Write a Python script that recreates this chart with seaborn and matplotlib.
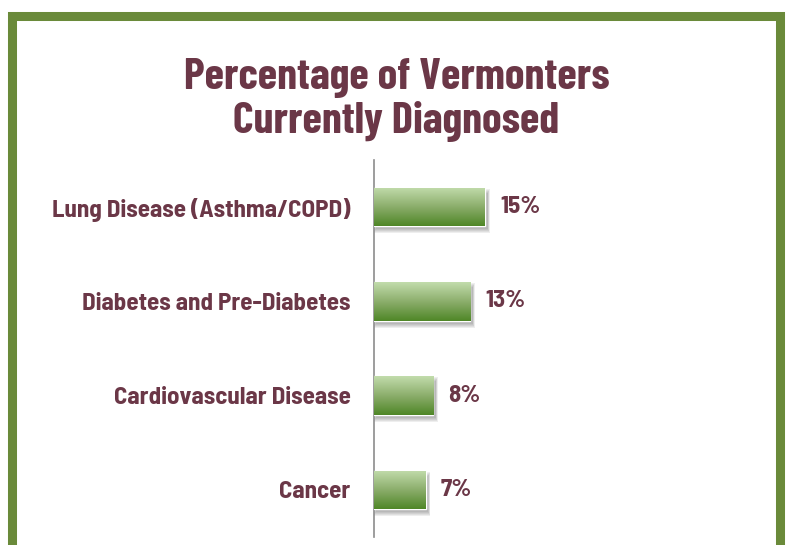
# Horizontal bar chart: share of Vermonters currently diagnosed, by condition.

import numpy as np
import pandas as pd
import seaborn as sns
import matplotlib.pyplot as plt
from matplotlib.colors import LinearSegmentedColormap
from matplotlib.patches import Rectangle

conditions = ["Lung Disease (Asthma/COPD)", "Diabetes and Pre-Diabetes",
              "Cardiovascular Disease", "Cancer"]
percent = [15, 13, 8, 7]

maroon = "#6b3747"
border_green = "#6a8a3a"
title_fonts = ["Barlow Condensed", "DejaVu Sans"]
label_fonts = ["Barlow Semi Condensed", "Barlow Condensed", "DejaVu Sans"]

sns.set_theme(style="white")
plt.rcParams["font.family"] = label_fonts

df = pd.DataFrame({"condition": conditions, "percent": percent})

fig = plt.figure(figsize=(7.93, 5.45), dpi=100)
ax = fig.add_axes([374 / 793, 1 - 537 / 545, 380 / 793, 377 / 545])

sns.barplot(data=df, x="percent", y="condition", ax=ax, width=0.41,
            color="#8fb070", saturation=1, zorder=3)

xmax = 380 / 7.4
ax.set_xlim(0, xmax)
ax.set_ylim(3.5, -0.5)

# pixel sizes in data units, for the shadow
px_x = xmax / 380
px_y = 4 / 377

# Soft drop shadow (mostly below the bar) and vertical gradient for every bar.
grad = LinearSegmentedColormap.from_list("g", ["#c2dcac", "#8cae6c", "#4f8727"])
for p in list(ax.patches):
    x0, y0, w, h = p.get_x(), p.get_y(), p.get_width(), p.get_height()
    for k in range(1, 6):
        ax.add_patch(Rectangle((x0 + (2 - 0.5 * k) * px_x, y0 + (6 - k) * px_y),
                               w + k * px_x, h + 2 * k * px_y - 4 * px_y,
                               color="#303030", alpha=0.08, lw=0, zorder=1))
    img = ax.imshow(np.linspace(0, 1, 200).reshape(-1, 1), cmap=grad,
                    extent=(x0, x0 + w, y0 + h, y0), aspect="auto", zorder=4)
    img.set_clip_path(p)
ax.set_xlim(0, xmax)
ax.set_ylim(3.5, -0.5)

ax.bar_label(ax.containers[0], labels=[f"{v}%" for v in percent], padding=11,
             fontsize=18, fontweight="bold", color=maroon, family=label_fonts)

ax.set_xlabel("")
ax.set_ylabel("")
ax.set_xticks([])
ax.tick_params(axis="y", length=0, pad=17)
for t in ax.get_yticklabels():
    t.set_fontsize(18)
    t.set_fontweight("bold")
    t.set_color(maroon)
    t.set_family(label_fonts)

for s in ["top", "right", "bottom"]:
    ax.spines[s].set_visible(False)
ax.spines["left"].set_color("#8c8c8c")
ax.spines["left"].set_linewidth(1.2)
ax.patch.set_alpha(0)

fig.text(0.5, 1 - 100 / 545, "Percentage of Vermonters\nCurrently Diagnosed",
         ha="center", va="center", fontsize=32, fontweight="bold",
         color=maroon, linespacing=1.12, family=title_fonts)

# Green frame around the slide (bottom edge runs off the image).
fig.patches.append(Rectangle((11.5 / 793, -0.1), (779.5 - 11.5) / 793,
                             1.1 - 15.5 / 545, transform=fig.transFigure,
                             fill=False, edgecolor=border_green, lw=6.5,
                             zorder=0))

fig.savefig("out.png", dpi=100)
